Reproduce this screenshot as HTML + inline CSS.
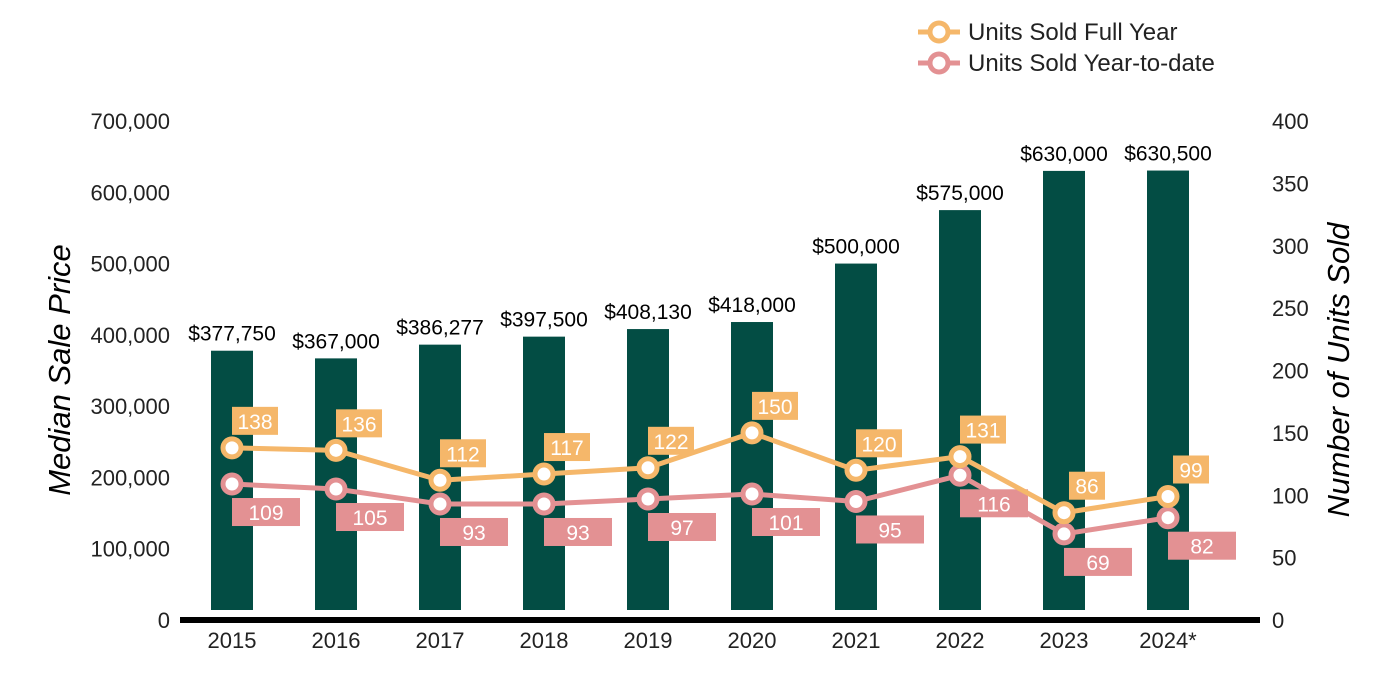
<!DOCTYPE html>
<html><head><meta charset="utf-8"><style>
body{margin:0;background:#fff;}
svg{display:block;font-family:"Liberation Sans",Arial,sans-serif;}
</style></head><body>
<svg id="c" width="1400" height="700"></svg>
<script>
const years=["2015","2016","2017","2018","2019","2020","2021","2022","2023","2024*"];
const prices=[377750,367000,386277,397500,408130,418000,500000,575000,630000,630500];
const priceLabels=["$377,750","$367,000","$386,277","$397,500","$408,130","$418,000","$500,000","$575,000","$630,000","$630,500"];
const fullYear=[138,136,112,117,122,150,120,131,86,99];
const ytd=[109,105,93,93,97,101,95,116,69,82];
const leftTicks=[0,100000,200000,300000,400000,500000,600000,700000];
const rightTicks=[0,50,100,150,200,250,300,350,400];

const NS="http://www.w3.org/2000/svg";
const svg=document.getElementById('c');
function el(t,a,txt){const e=document.createElementNS(NS,t);for(const k in a)e.setAttribute(k,a[k]);if(txt!==undefined)e.textContent=txt;svg.appendChild(e);return e;}
const y0=620,yTop=121;
const yL=v=>y0-v/700000*(y0-yTop);
const yR=v=>y0-v/400*(y0-yTop);
const xC=i=>232+i*104;
const ORANGE="#f5b76a",PINK="#e39193",GREEN="#034d44";

leftTicks.forEach(v=>{const t=el('text',{x:170,y:yL(v)+8,'text-anchor':'end','font-size':22,fill:'#222'},v===0?'0':v.toLocaleString('en-US'));

});
rightTicks.forEach(v=>{const t=el('text',{x:1272,y:yR(v)+8,'font-size':22,fill:'#222'},String(v));

});

prices.forEach((p,i)=>{
const b=el('rect',{x:xC(i)-21,y:yL(p),width:42,height:610-yL(p),fill:GREEN});


const t=el('text',{x:xC(i),y:yL(p)-10,'text-anchor':'middle','font-size':21,fill:'#000'},priceLabels[i]);


const xl=el('text',{x:xC(i),y:648,'text-anchor':'middle','font-size':22,fill:'#222'},years[i]);


});
const ax=el('rect',{x:180,y:617,width:1080,height:6,fill:'#000'});



function series(vals,color,name,dx,dy,w){
const pl=el('polyline',{points:vals.map((v,i)=>xC(i)+','+yR(v)).join(' '),fill:'none',stroke:color,'stroke-width':5});


vals.forEach((v,i)=>{
const c=el('circle',{cx:xC(i),cy:yR(v),r:9,fill:'#fff',stroke:color,'stroke-width':5});


const bw=w(v);
const r=el('rect',{x:xC(i)+dx-bw/2,y:yR(v)+dy-14,width:bw,height:28,fill:color});


const t=el('text',{x:xC(i)+dx,y:yR(v)+dy+8,'text-anchor':'middle','font-size':21,fill:'#fff'},String(v));


});}
series(ytd,PINK,'ytd',34,28,()=>68);
series(fullYear,ORANGE,'full-year',23,-27,v=>v>=100?46:36);

const lt=el('text',{transform:'translate(70,370) rotate(-90)','text-anchor':'middle','font-size':31,'font-style':'italic',fill:'#000'},'Median Sale Price');


const rt=el('text',{transform:'translate(1349,370) rotate(-90)','text-anchor':'middle','font-size':31,'font-style':'italic',fill:'#000'},'Number of Units Sold');



[[ORANGE,'Units Sold Full Year',32],[PINK,'Units Sold Year-to-date',63]].forEach(([c,l,y])=>{
const ln=el('line',{x1:918,y1:y,x2:960,y2:y,stroke:c,'stroke-width':5});


const ci=el('circle',{cx:939,cy:y,r:9,fill:'#fff',stroke:c,'stroke-width':5});


const t=el('text',{x:968,y:y+8,'font-size':24,fill:'#222'},l);


});
</script>
</body></html>
